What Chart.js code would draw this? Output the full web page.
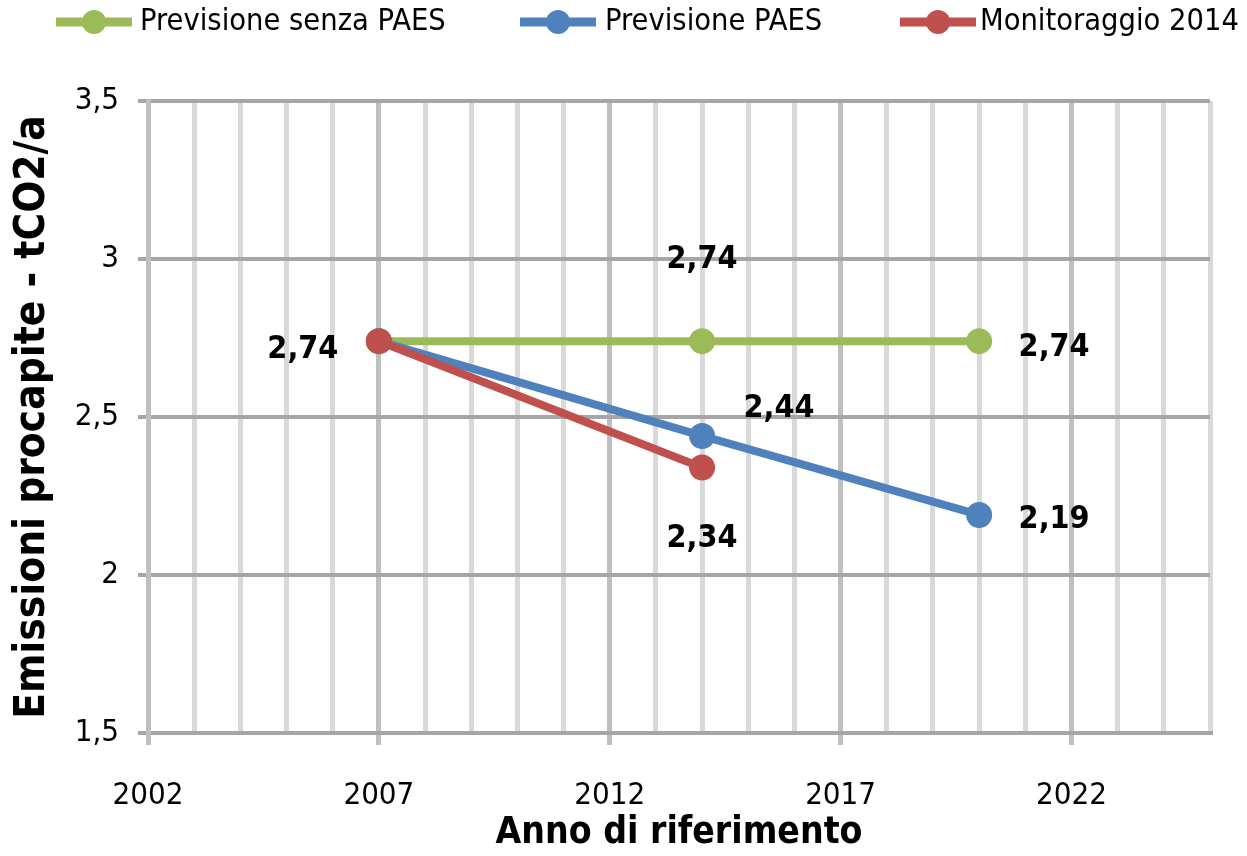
<!DOCTYPE html>
<html>
<head>
<meta charset="utf-8">
<script src="https://cdn.jsdelivr.net/npm/chart.js@4.4.1/dist/chart.umd.min.js"></script>
<style>
  html, body { margin: 0; padding: 0; background: #fff; }
  canvas { display: block; }
</style>
</head>
<body>
<canvas id="emissioni" width="1247" height="856"></canvas>
<script>
// data
const seriesNames = ['Previsione senza PAES', 'Previsione PAES', 'Monitoraggio 2014']
const years_senzaPaes = [2007, 2014, 2020]
const values_senzaPaes = [2.74, 2.74, 2.74]
const years_paes = [2007, 2014, 2020]
const values_paes = [2.74, 2.44, 2.19]
const years_monitoraggio = [2007, 2014]
const values_monitoraggio = [2.74, 2.34]
const xTickLabels = [2002, 2007, 2012, 2017, 2022]
const yTickLabels = ['1,5', '2', '2,5', '3', '3,5']

// styles
const colors = ['#9bbb59', '#4f81bd', '#c0504d']
const fontFamily = "'DejaVu Sans Condensed', 'Liberation Sans Narrow', sans-serif"
// where each value label sits relative to its point (null = no label)
const labelOffsets = [
  [[-76, 9], [0, -81], [75, 7]],
  [null, [77, -27], [75, 5]],
  [null, [0, 71]]
]
// legend entries: marker line start x, text start x
const legendSlots = [[56, 140], [520, 605], [900, 980]]

const toPoints = (xs, ys) => xs.map((x, i) => ({ x: x, y: ys[i] }))

const valueLabels = {
  id: 'valueLabels',
  afterDatasetsDraw(chart) {
    let ctx = chart.ctx
    ctx.save()
    ctx.font = 'bold 32px ' + fontFamily
    ctx.fillStyle = '#000'
    ctx.textAlign = 'center'
    ctx.textBaseline = 'middle'
    chart.data.datasets.forEach((ds, di) => {
      let meta = chart.getDatasetMeta(di)
      meta.data.forEach((pt, i) => {
        let off = labelOffsets[di][i]
        if (!off) return
        let txt = ds.data[i].y.toFixed(2).replace('.', ',')
        ctx.fillText(txt, pt.x + off[0], pt.y + off[1])
      })
    })
    ctx.restore()
  }
}

// legend row at the top: line with a dot, then the series name
const topLegend = {
  id: 'topLegend',
  afterDraw(chart) {
    let ctx = chart.ctx
    let y = 22
    ctx.save()
    chart.data.datasets.forEach((ds, i) => {
      let [mx, tx] = legendSlots[i]
      ctx.strokeStyle = colors[i]
      ctx.fillStyle = colors[i]
      ctx.lineWidth = 9
      ctx.beginPath()
      ctx.moveTo(mx, y)
      ctx.lineTo(mx + 76, y)
      ctx.stroke()
      ctx.beginPath()
      ctx.arc(mx + 38, y, 12, 0, Math.PI * 2)
      ctx.fill()
      ctx.fillStyle = '#000'
      ctx.font = '30.5px ' + fontFamily
      ctx.textAlign = 'left'
      ctx.textBaseline = 'middle'
      ctx.fillText(ds.label, tx, y)
    })
    ctx.restore()
  }
}

let chartEle = document.getElementById('emissioni').getContext('2d')
let chart = new Chart(chartEle, {
  type: 'line',
  data: {
    datasets: [
      { label: seriesNames[0], data: toPoints(years_senzaPaes, values_senzaPaes), order: 2 },
      { label: seriesNames[1], data: toPoints(years_paes, values_paes), order: 1 },
      { label: seriesNames[2], data: toPoints(years_monitoraggio, values_monitoraggio), order: 0 }
    ].map((ds, i) => Object.assign(ds, {
      borderColor: colors[i],
      backgroundColor: colors[i],
      pointBackgroundColor: colors[i],
      pointBorderWidth: 0,
      pointRadius: 13,
      borderWidth: 8,
      tension: 0,
      clip: false
    }))
  },
  options: {
    responsive: false,
    animation: false,
    layout: { padding: { top: 101, right: 37, left: 0, bottom: 0 } },
    plugins: {
      tooltip: { enabled: false },
      legend: { display: false }
    },
    scales: {
      x: {
        type: 'linear',
        min: 2002,
        max: 2025,
        afterFit: (s) => { s.height = 123 },
        border: { color: '#a6a6a6', width: 4 },
        grid: {
          lineWidth: 5,
          tickLength: 12,
          color: (c) => xTickLabels.includes(c.tick.value) ? '#bfbfbf' : '#d9d9d9',
          tickColor: (c) => xTickLabels.includes(c.tick.value) ? '#bfbfbf' : 'rgba(0,0,0,0)'
        },
        ticks: {
          stepSize: 1,
          autoSkip: false,
          maxRotation: 0,
          padding: 32,
          color: '#000',
          font: { size: 31, family: fontFamily },
          callback: (v) => xTickLabels.includes(v) ? String(v) : ''
        },
        title: {
          display: true,
          text: 'Anno di riferimento',
          color: '#000',
          font: { size: 37, weight: 'bold', family: fontFamily },
          padding: { top: 0, bottom: 0 }
        }
      },
      y: {
        min: 1.5,
        max: 3.5,
        afterFit: (s) => { s.width = 148 },
        border: { color: '#bfbfbf', width: 5 },
        grid: {
          lineWidth: 4,
          tickLength: 10,
          color: '#a6a6a6',
          tickColor: '#a6a6a6'
        },
        ticks: {
          stepSize: 0.5,
          padding: 19,
          color: '#000',
          font: { size: 31, family: fontFamily },
          callback: (v, i) => yTickLabels[i]
        },
        title: {
          display: true,
          text: 'Emissioni procapite - tCO2/a',
          color: '#000',
          font: { size: 42, weight: 'bold', family: fontFamily },
          padding: { top: 8, bottom: 0 }
        }
      }
    }
  },
  plugins: [valueLabels, topLegend]
})
</script>
</body>
</html>
